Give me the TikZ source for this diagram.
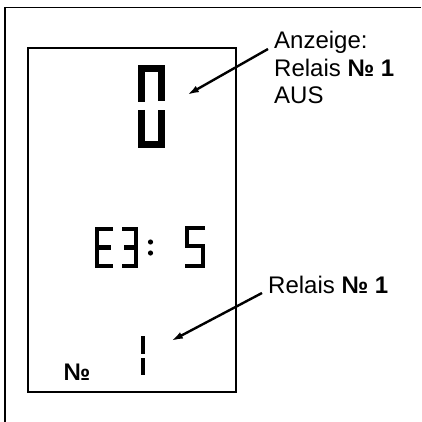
\documentclass[tikz,border=0pt]{standalone}
\usepackage{fontspec}
\setmainfont{Liberation Sans}
\usetikzlibrary{arrows.meta}

\begin{document}
\begin{tikzpicture}[x=1pt,y=-1pt,
      frame/.style={line width=1.6pt},
      seg/.style={line width=4.2pt},
      bigseg/.style={line width=7pt},
      lbl/.style={font=\fontsize{24}{28}\selectfont,inner xsep=6pt,inner ysep=0pt},
      arr/.style={-{Latex[length=12pt,width=7pt]},line width=2.4pt}]
    \useasboundingbox (0,0) rectangle (421,422);
    % outer frame and display
    \draw[frame] (5,422) -- (5,7.5) -- (421,7.5);
    \draw[frame] (28,48) rectangle (236,392);
    % big digit 0
    \draw[bigseg] (141.5,102) -- (141.5,68.5) -- (161.5,68.5) -- (161.5,101);
    \draw[bigseg] (141.5,110) -- (141.5,144.5) -- (161.5,144.5) -- (161.5,110);
    \coordinate (zerotip) at (187,95);
    % E3: 5
    \draw[seg] (113,229) -- (97,229) -- (97,266) -- (113,266);
    \draw[seg] (97,247.5) -- (111,247.5);
    \draw[seg] (122,229) -- (136,229) -- (136,266) -- (122,266);
    \draw[seg] (124,247.5) -- (136,247.5);
    \fill (150.5,242) circle (2.6) (150.5,253) circle (2.6);
    \draw[seg] (205,228) -- (187,228) -- (187,246) -- (203,246) -- (203,266) -- (185,266);
    % digit 1 and No
    \draw[seg] (143,336) -- (143,354);
    \draw[seg] (143,358) -- (143,375);
    \coordinate (onetip) at (171,341);
    \node[font=\fontsize{24}{24}\bfseries\selectfont,inner sep=0pt] (nr) at (77,372) {№};
    % labels
    \node[lbl,anchor=base west] (anz) at (268,49) {Anzeige:};
    \node[lbl,anchor=base west] (anzrel) at (268,77) {Relais \textbf{№ 1}};
    \node[lbl,anchor=base west] (anzaus) at (268,104) {AUS};
    \node[lbl,anchor=base west] (rel) at (262,293) {Relais \textbf{№ 1}};
    \draw[arr] (anz.base west) -- (zerotip);
    \draw[arr] (rel.base west) -- (onetip);
  \end{tikzpicture}
\end{document}
